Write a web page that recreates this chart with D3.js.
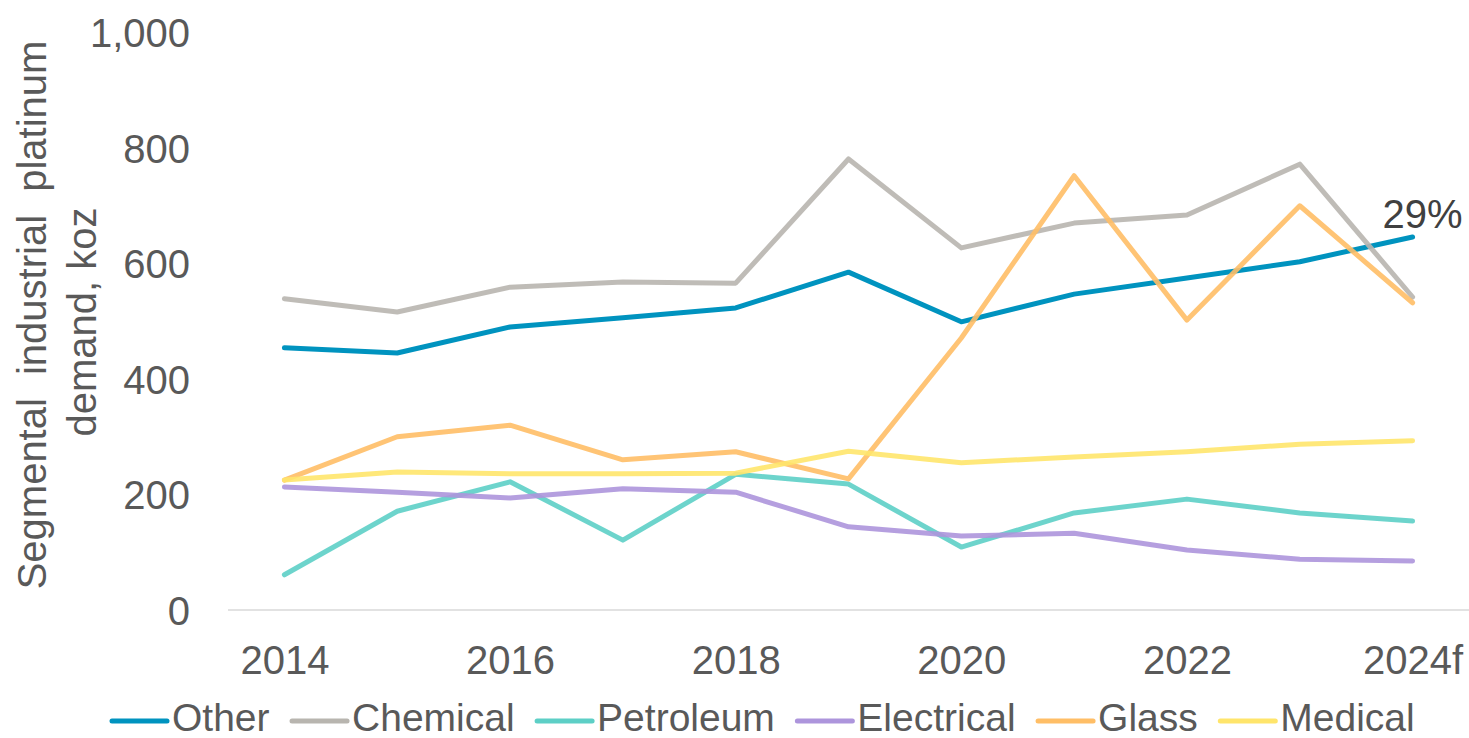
<!DOCTYPE html>
<html>
<head>
<meta charset="utf-8">
<script src="https://cdn.jsdelivr.net/npm/d3@7"></script>
<style>
  html, body { margin: 0; padding: 0; background: #fff; }
  svg { display: block; font-family: "Liberation Sans", Arial, sans-serif; }
</style>
</head>
<body>
<svg id="chart" width="1469" height="738"></svg>
<script>
const categories = ["2014","2015","2016","2017","2018","2019","2020","2021","2022","2023","2024f"];
const tickLabels = ["2014","2016","2018","2020","2022","2024f"];
const yTicks = [0, 200, 400, 600, 800, 1000];
const seriesNames = ["Other","Chemical","Petroleum","Electrical","Glass","Medical"];
const seriesColors = ["#0093BF","#B8B5AF","#5DCFC6","#AD95DC","#FFBE66","#FFE56B"];
const other      = [454, 445, 490, 506, 523, 585, 499, 547, 575, 603, 646];
const chemical   = [539, 516, 559, 568, 566, 781, 627, 670, 684, 772, 542];
const petroleum  = [ 61, 171, 222, 121, 235, 218, 109, 168, 192, 168, 154];
const electrical = [213, 204, 194, 210, 204, 144, 128, 133, 104,  88,  85];
const glass      = [225, 300, 320, 260, 274, 227, 471, 752, 502, 700, 532];
const medical    = [225, 239, 236, 236, 237, 275, 255, 265, 274, 287, 293];
const seriesValues = [other, chemical, petroleum, electrical, glass, medical];
const annotation = "29%";
const yTitleLines = ["Segmental industrial platinum", "demand, koz"];

(function () {
const svg = d3.select("#chart");
const plotLeft = 228, plotRight = 1469, plotTop = 32.5, plotBottom = 610;

const x = d3.scalePoint().domain(categories).range([plotLeft, plotRight]).padding(0.5);
const y = d3.scaleLinear().domain([0, 1000]).range([plotBottom, plotTop]);

// baseline axis line
svg.append("line")
  .attr("x1", plotLeft).attr("x2", plotRight)
  .attr("y1", y(0)).attr("y2", y(0))
  .attr("stroke", "#D9D9D9").attr("stroke-width", 1.5);

// y axis tick labels
const yAxis = d3.axisLeft(y).tickValues(yTicks).tickFormat(d3.format(",")).tickSize(0).tickPadding(0);
const yg = svg.append("g").attr("transform", "translate(190,0)").call(yAxis);
yg.select(".domain").remove();
yg.selectAll("text").attr("font-size", 40).attr("fill", "#595959")
  .attr("font-family", "'Liberation Sans', Arial, sans-serif").attr("dy", "0.36em");

// x axis tick labels
const xAxis = d3.axisBottom(x).tickValues(tickLabels).tickSize(0).tickPadding(0);
const xg = svg.append("g").call(xAxis);
xg.select(".domain").remove();
xg.selectAll("text").attr("font-size", 40).attr("fill", "#595959")
  .attr("font-family", "'Liberation Sans', Arial, sans-serif")
  .attr("y", 674).attr("dy", 0);

// y axis title
const yt = svg.append("text")
  .attr("transform", "translate(0,322) rotate(-90)")
  .attr("text-anchor", "middle").attr("font-size", 40).attr("fill", "#595959");
yTitleLines.forEach((t, i) => {
  yt.append("tspan")
    .attr("x", i === 0 ? 7 : 0)
    .attr("y", 46 + i * 50)
    .attr("word-spacing", i === 0 ? 12 : 0)
    .text(t);
});

// lines
const line = d3.line().x((d, i) => x(categories[i])).y(d => y(d));
seriesValues.forEach((vals, i) => {
  svg.append("path")
    .datum(vals)
    .attr("d", line)
    .attr("fill", "none")
    .attr("stroke", seriesColors[i])
    .attr("stroke-opacity", i === 0 ? 1 : 0.9)
    .attr("stroke-width", 5)
    .attr("stroke-linecap", "round")
    .attr("stroke-linejoin", "round");
});

// annotation
const lastIdx = categories.length - 1;
svg.append("text")
  .attr("x", x(categories[lastIdx]) - 30)
  .attr("y", y(other[lastIdx]) - 9)
  .attr("font-size", 40).attr("fill", "#404040")
  .text(annotation);

// legend
const lg = svg.append("g");
let cx = 112;
const ly = 721;
seriesNames.forEach((name, i) => {
  lg.append("line")
    .attr("x1", cx).attr("x2", cx + 55)
    .attr("y1", ly).attr("y2", ly)
    .attr("stroke", seriesColors[i]).attr("stroke-width", 5)
    .attr("stroke-linecap", "round");
  const t = lg.append("text")
    .attr("x", cx + 60).attr("y", 731)
    .attr("font-size", 39).attr("fill", "#595959")
    .text(name);
  cx += 60 + t.node().getComputedTextLength() + 22.5;
});
})();
</script>
</body>
</html>
